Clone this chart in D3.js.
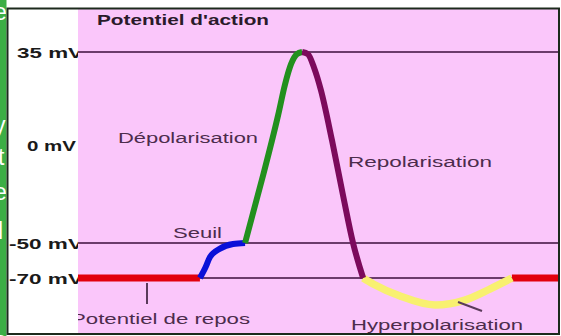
<!DOCTYPE html>
<html><head><meta charset="utf-8">
<script src="https://cdn.jsdelivr.net/npm/d3@7"></script>
<style>html,body{margin:0;padding:0;background:#fff;}svg{display:block;}</style>
</head><body>
<svg id="c" width="561" height="336"></svg>
<script>
// ---- data ----
const title = "Potentiel d'action";
const tickValues = [35, 0, -50, -70];
const tickLabels = ["35 mV", "0 mV", "-50 mV", "-70 mV"];
const gridValues = [35, -50, -70];
// [time (arbitrary), membrane potential mV]
const restBefore = [[0, -70], [25.4, -70]];
const seuil = [[25.4, -70], [26.5, -64.3], [27.5, -58], [29.6, -53.2], [32.3, -50.6], [34.8, -50]];
const depol = [[34.8, -50], [38.3, -17.9], [41.7, 11.3], [43.1, 22.6], [44.4, 30.5], [45.6, 34.2], [46.7, 35]];
const repol = [[46.7, 35], [47.9, 34.2], [49.2, 29.0], [50.6, 20.7], [52.9, 1.9], [55.2, -25.5], [57.3, -50], [59.4, -70]];
const hyper = [[59.4, -70], [61.5, -73.4], [67.1, -80.3], [74.4, -85.4], [80.6, -82.6], [85.8, -76.3], [90.4, -70]];
const restAfter = [[90.4, -70], [100, -70]];
const phaseLabels = ["Dépolarisation", "Repolarisation", "Seuil", "Potentiel de repos", "Hyperpolarisation"];
const stripLetters = ["e", "y", "t", "e", "l", "e"];

// ---- drawing ----
const svg = d3.select("#c");
const x = d3.scaleLinear().domain([0, 100]).range([78, 558]);
const y = d3.scaleLinear().domain([-90, -70, -50, 0, 35]).range([313, 278, 243, 145, 52]);

const font = "'Liberation Sans', Arial, sans-serif";
svg.append("rect").attr("x", 0).attr("y", 0).attr("width", 561).attr("height", 336).attr("fill", "#fff");

// left green strip with cut letters
svg.append("defs").html(
  '<clipPath id="strip"><rect x="0" y="0" width="6.5" height="336"/></clipPath>' +
  '<clipPath id="plot"><rect x="78" y="9" width="481" height="325"/></clipPath>');
const strip = svg.append("g").attr("clip-path", "url(#strip)");
strip.append("rect").attr("x", 0).attr("y", 0).attr("width", 7).attr("height", 336).attr("fill", "#3cae45");
const letterY = [20, 133, 165, 200, 239, 348];
strip.selectAll("text").data(stripLetters).join("text")
  .attr("x", (d, i) => (d === "l" || d === "t") ? -2 : -6).attr("y", (d, i) => letterY[i])
  .attr("font-family", font).attr("font-size", 23).attr("fill", "#fff").text(d => d);

// axis labels (drawn before pink panel so the "V" gets partly hidden)
const labX = {35: 17, 0: 27, "-50": 9, "-70": 9};
const labLen = {35: 66, 0: 49, "-50": 74, "-70": 74};
svg.append("g").selectAll("text").data(tickValues).join("text")
  .attr("x", d => labX[d]).attr("y", d => y(d) + 5.5)
  .attr("textLength", d => labLen[d]).attr("lengthAdjust", "spacingAndGlyphs")
  .attr("font-family", font).attr("font-weight", "bold").attr("font-size", 15.5)
  .attr("fill", "#1a1a1a").text((d, i) => tickLabels[i]);

// pink panel
svg.append("rect").attr("x", 78).attr("y", 9).attr("width", 481).attr("height", 325).attr("fill", "#fac6fa");

// border
svg.append("rect").attr("x", 7.5).attr("y", 8.5).attr("width", 551.5).attr("height", 325.5)
  .attr("fill", "none").attr("stroke", "#1c2a1c").attr("stroke-width", 2);

// title
svg.append("text").attr("x", 97).attr("y", 25).attr("textLength", 172).attr("lengthAdjust", "spacingAndGlyphs")
  .attr("font-family", font).attr("font-weight", "bold").attr("font-size", 15.5).attr("fill", "#2a1a2a").text(title);

// reference lines
svg.append("g").selectAll("line").data(gridValues).join("line")
  .attr("x1", 78).attr("x2", 558).attr("y1", d => y(d)).attr("y2", d => y(d))
  .attr("stroke", "#6b3c6b").attr("stroke-width", 2.2);

// curve phases
const line = d3.line().x(d => x(d[0])).y(d => y(d[1])).curve(d3.curveMonotoneX);
const phases = [
  {data: restBefore, color: "#e2000c", w: 7},
  {data: restAfter, color: "#e2000c", w: 7},
  {data: hyper, color: "#f8f070", w: 7.5},
  {data: seuil, color: "#0a10d8", w: 6},
  {data: depol, color: "#22901e", w: 6},
  {data: repol, color: "#7c0a5c", w: 6}
];
svg.append("g").selectAll("path").data(phases).join("path")
  .attr("d", d => line(d.data)).attr("fill", "none")
  .attr("stroke", d => d.color).attr("stroke-width", d => d.w).attr("stroke-linecap", "butt");

// leader lines
const leaders = [[[147, 283], [147, 304]], [[458, 302], [482, 311]]];
svg.append("g").selectAll("line").data(leaders).join("line")
  .attr("x1", d => d[0][0]).attr("y1", d => d[0][1]).attr("x2", d => d[1][0]).attr("y2", d => d[1][1])
  .attr("stroke", "#5a3a5a").attr("stroke-width", 2);

// phase labels
const labPos = [
  {x: 118, y: 143, len: 140},
  {x: 348, y: 167, len: 144},
  {x: 173, y: 238, len: 49},
  {x: 71, y: 324, len: 179},
  {x: 351, y: 330, len: 172}
];
svg.append("g").attr("clip-path", "url(#plot)").selectAll("text").data(phaseLabels).join("text")
  .attr("x", (d, i) => labPos[i].x).attr("y", (d, i) => labPos[i].y)
  .attr("textLength", (d, i) => labPos[i].len).attr("lengthAdjust", "spacingAndGlyphs")
  .attr("font-family", font).attr("font-size", 15.5).attr("fill", "#4c2c4c").text(d => d);
</script>
</body></html>
